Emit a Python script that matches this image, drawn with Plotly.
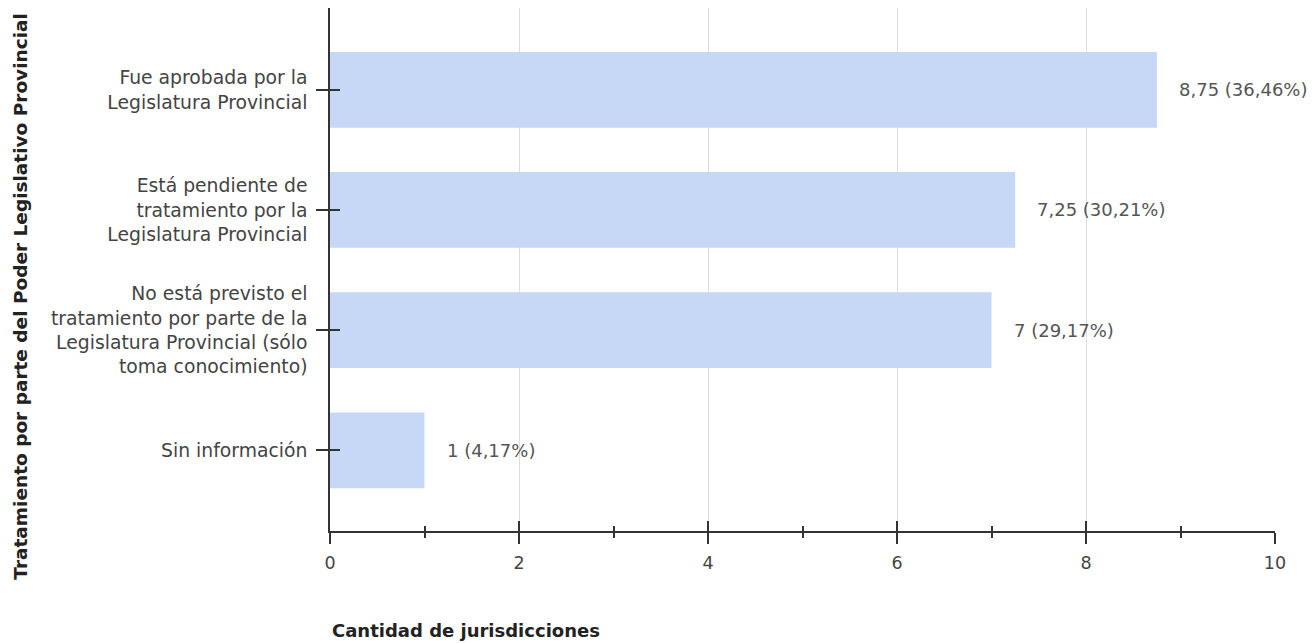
import plotly.graph_objects as go

categories = [
    "Fue aprobada por la<br>Legislatura Provincial",
    "Está pendiente de<br>tratamiento por la<br>Legislatura Provincial",
    "No está previsto el<br>tratamiento por parte de la<br>Legislatura Provincial (sólo<br>toma conocimiento)",
    "Sin información",
]
values = [8.75, 7.25, 7, 1]
percents = [36.46, 30.21, 29.17, 4.17]
x_tickvals = [0, 2, 4, 6, 8, 10]

x_title = "Cantidad de jurisdicciones"
y_title = "Tratamiento por parte del Poder Legislativo Provincial"

FONT = "DejaVu Sans"
BAR_COLOR = "#c6d8f5"
AXIS_COLOR = "#333333"
Y_RANGE = [3.67, -0.68]


def fmt(v):
    return f"{v:g}".replace(".", ",")


labels = [f"{fmt(v)} ({p:.2f}%)".replace(".", ",") for v, p in zip(values, percents)]

fig = go.Figure()
fig.add_trace(go.Bar(
    x=values, y=categories, orientation="h",
    marker=dict(color=BAR_COLOR, line=dict(width=0)),
    width=0.63, hoverinfo="skip",
))
# ghost trace to carry the overlay axes (inner half of crossing ticks)
fig.add_trace(go.Scatter(
    x=values, y=categories, xaxis="x2", yaxis="y2", mode="markers",
    marker=dict(opacity=0), hoverinfo="skip", showlegend=False,
))

for v, c, t in zip(values, categories, labels):
    fig.add_annotation(
        x=v, y=c, text=t, showarrow=False, xanchor="left", yanchor="middle",
        xshift=20, font=dict(family=FONT, size=18, color="#555555"),
    )

fig.add_annotation(
    xref="paper", yref="paper", x=0, y=0, xanchor="left", yanchor="top",
    yshift=-87, text=f"<b>{x_title}</b>", showarrow=False,
    font=dict(family=FONT, size=18, color="#222222"),
)
fig.add_annotation(
    xref="paper", yref="paper", x=0, y=0.448, xanchor="center", yanchor="middle",
    xshift=-309, textangle=-90, text=f"<b>{y_title}</b>", showarrow=False,
    font=dict(family=FONT, size=18.5, color="#222222"),
)

fig.update_layout(
    width=1307, height=635,
    margin=dict(l=321.5, r=40, t=0, b=111.5),
    paper_bgcolor="white", plot_bgcolor="white",
    showlegend=False, bargap=0.37,
    xaxis=dict(
        range=[0, 10], tickvals=x_tickvals, ticks="outside", ticklen=11,
        tickwidth=1.5, tickcolor=AXIS_COLOR, showline=True, linecolor=AXIS_COLOR,
        linewidth=1.5, showgrid=True, gridcolor="#dcdcdc", gridwidth=1,
        zeroline=False, ticklabelstandoff=4,
        tickfont=dict(family=FONT, size=17.5, color="#444444"),
        minor=dict(dtick=1, tick0=0, ticks="outside", ticklen=5, tickwidth=1.5,
                   tickcolor=AXIS_COLOR, showgrid=False),
        fixedrange=True,
    ),
    yaxis=dict(
        type="category", categoryorder="array", categoryarray=categories,
        range=Y_RANGE, ticks="outside", ticklen=12, tickwidth=1.5,
        tickcolor=AXIS_COLOR, showline=True, linecolor=AXIS_COLOR, linewidth=1.5,
        showgrid=False, zeroline=False, ticklabelstandoff=5,
        tickfont=dict(family=FONT, size=18.8, color="#444444"),
        fixedrange=True,
    ),
    xaxis2=dict(
        overlaying="x", anchor="y2", side="bottom", range=[0, 10],
        tickvals=x_tickvals, ticks="inside", ticklen=10, tickwidth=1.5,
        tickcolor=AXIS_COLOR, showticklabels=False, showgrid=False,
        showline=False, zeroline=False,
        minor=dict(dtick=1, tick0=0, ticks="inside", ticklen=5, tickwidth=1.5,
                   tickcolor=AXIS_COLOR, showgrid=False),
        fixedrange=True,
    ),
    yaxis2=dict(
        overlaying="y", anchor="x2", side="left", type="category",
        categoryorder="array", categoryarray=categories, range=Y_RANGE,
        ticks="inside", ticklen=10, tickwidth=1.5, tickcolor=AXIS_COLOR,
        showticklabels=False, showgrid=False, showline=False, zeroline=False,
        fixedrange=True,
    ),
)

fig.write_html("out.html")
